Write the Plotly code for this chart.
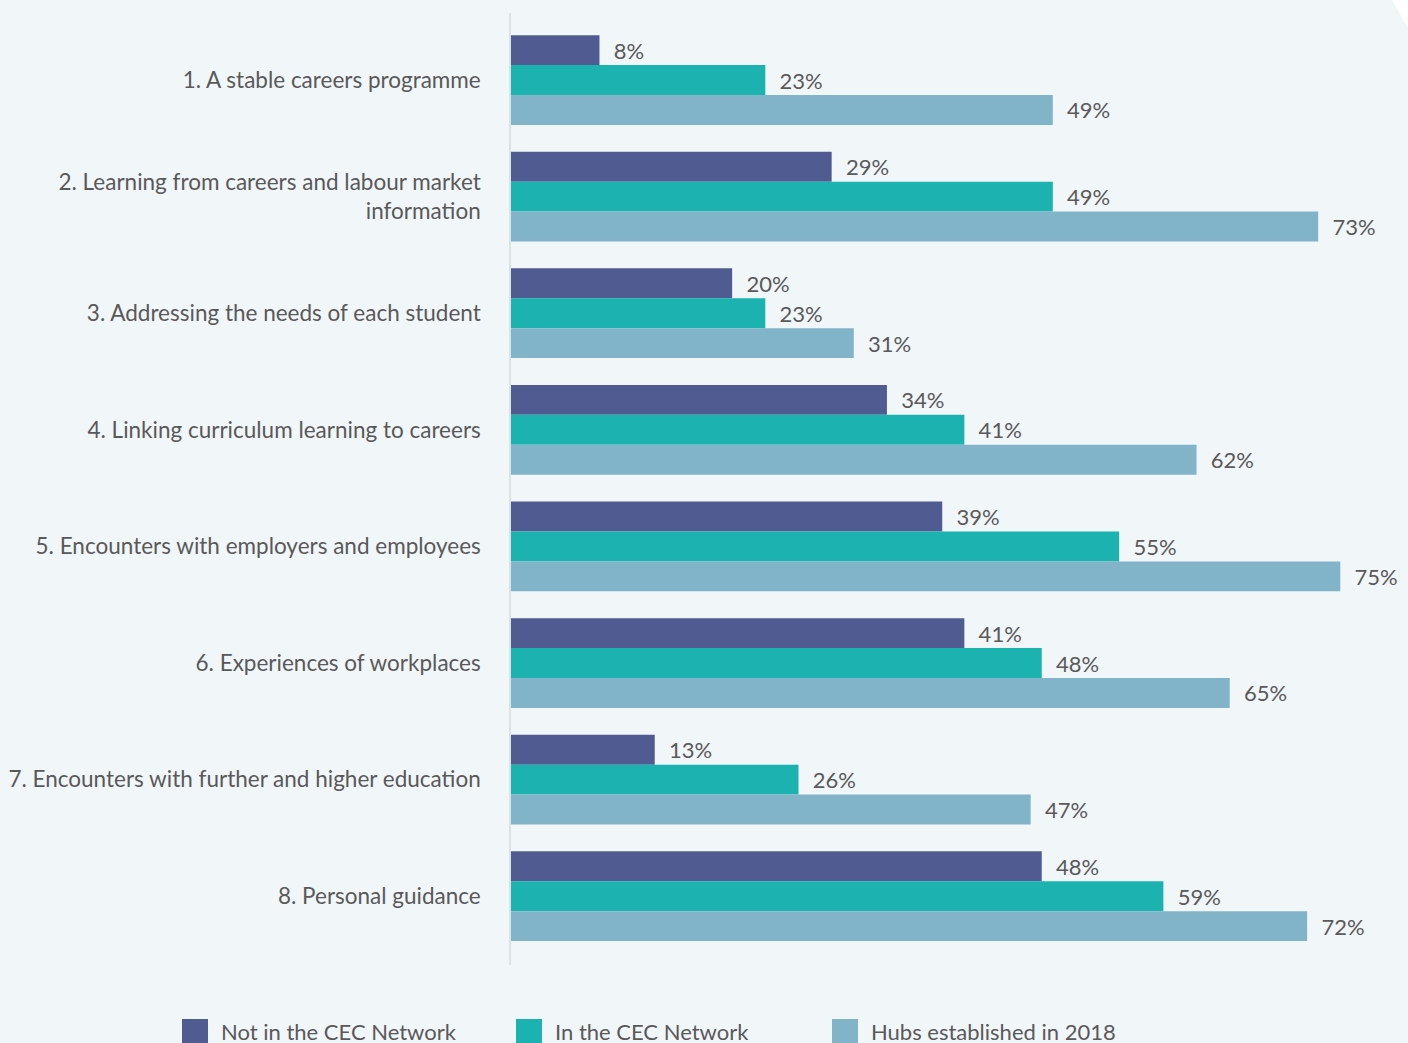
import plotly.graph_objects as go

# Gatsby benchmarks and share of schools achieving each one
categories = [
    "1. A stable careers programme",
    "2. Learning from careers and labour market<br>information",
    "3. Addressing the needs of each student",
    "4. Linking curriculum learning to careers",
    "5. Encounters with employers and employees",
    "6. Experiences of workplaces",
    "7. Encounters with further and higher education",
    "8. Personal guidance",
]

series_names = ["Not in the CEC Network", "In the CEC Network", "Hubs established in 2018"]
not_in_network = [8, 29, 20, 34, 39, 41, 13, 48]
in_network = [23, 49, 23, 41, 55, 48, 26, 59]
hubs_2018 = [49, 73, 31, 62, 75, 65, 47, 72]
series_values = [not_in_network, in_network, hubs_2018]
series_colors = ["#505b92", "#1bb2b0", "#82b4c9"]

BG = "#f1f6f9"
TEXT = "#595959"
FONT = "Lato, 'Open Sans', sans-serif"

# plot-area geometry in pixels, used to place the hand-drawn legend
L, R, T, B = 511, 8, 13, 78
W, H = 1408, 1043
pw, ph = W - L - R, H - T - B


def px_to_paper(x, y):
    return (x - L) / pw, (H - B - y) / ph


fig = go.Figure()
for name, vals, col in zip(series_names, series_values, series_colors):
    fig.add_trace(go.Bar(
        y=categories, x=vals, name=name, orientation="h",
        marker=dict(color=col, line=dict(width=0)),
        text=[f"\u00a0\u00a0{v}%" for v in vals], textposition="outside",
        textfont=dict(family=FONT, size=22, color=TEXT),
        cliponaxis=False, showlegend=False,
    ))

fig.update_layout(
    barmode="group", bargap=0.23, bargroupgap=0,
    width=W, height=H,
    margin=dict(l=L, r=R, t=T, b=B, pad=0),
    paper_bgcolor=BG, plot_bgcolor=BG,
    font=dict(family=FONT, size=22, color=TEXT),
    uniformtext=dict(mode=False),
)
fig.update_xaxes(range=[0, 80.4], visible=False, showgrid=False, zeroline=False)
fig.update_yaxes(
    range=[7.59, -0.575], showgrid=False, zeroline=False,
    showline=True, linecolor="#dde2e5", linewidth=1.5,
    ticks="", ticklabelstandoff=24,
    tickfont=dict(family=FONT, size=22.5, color=TEXT),
)

# folded page corner at the top right
x0, y0 = px_to_paper(1389, 0)
x1, y1 = px_to_paper(1420, -5)
x2, y2 = px_to_paper(1420, 30)
x3, y3 = px_to_paper(1408, 28)
fig.add_shape(type="path", xref="paper", yref="paper",
              path=f"M {x0},{y1} L {x1},{y1} L {x2},{y2} L {x3},{y3} Z",
              fillcolor="white", line=dict(width=0), layer="above")

# legend drawn as swatches and labels along the bottom edge
legend_x = [182, 516, 832]
for name, col, lx in zip(series_names, series_colors, legend_x):
    sx0, sy0 = px_to_paper(lx, 1019)
    sx1, sy1 = px_to_paper(lx + 26, 1050)
    fig.add_shape(type="rect", xref="paper", yref="paper",
                  x0=sx0, x1=sx1, y0=sy1, y1=sy0,
                  fillcolor=col, line=dict(width=0))
    tx, ty = px_to_paper(lx + 37, 1031)
    fig.add_annotation(xref="paper", yref="paper", x=tx, y=ty,
                       text=name, showarrow=False, xanchor="left", yanchor="middle",
                       font=dict(family=FONT, size=22, color=TEXT))

fig.write_html("out.html")
